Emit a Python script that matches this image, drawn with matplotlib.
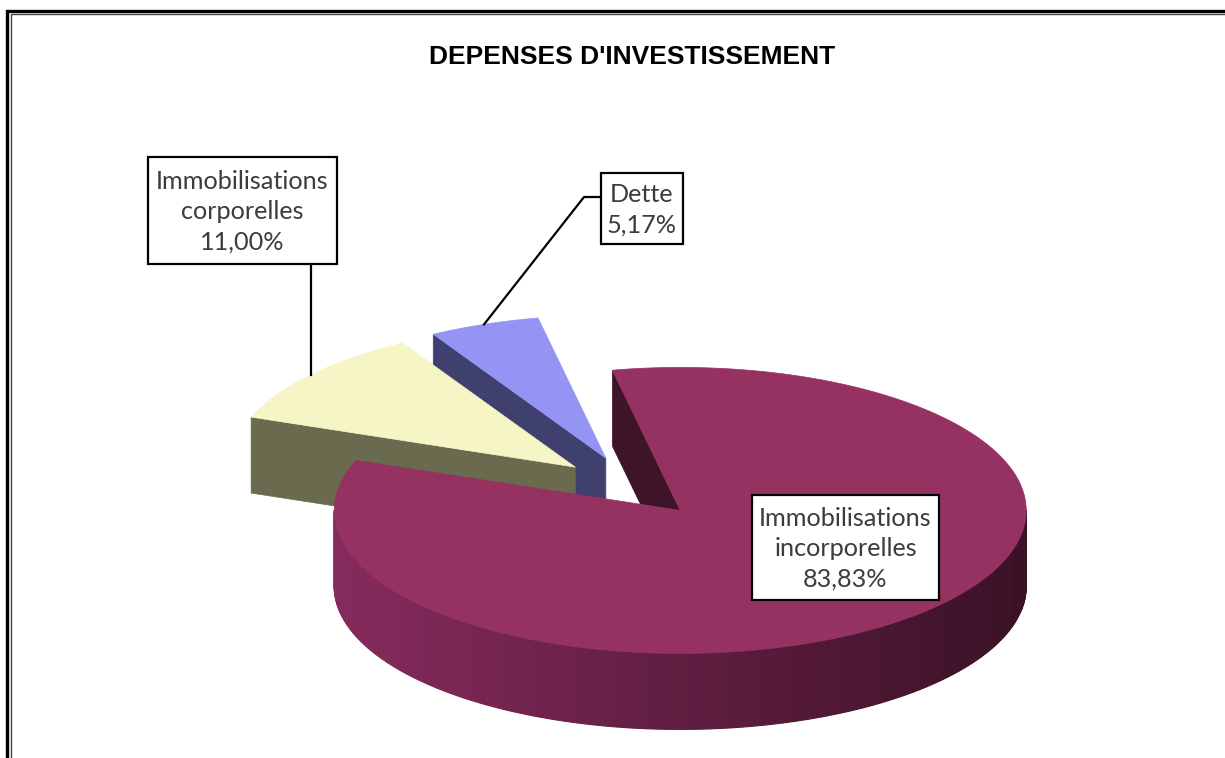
import numpy as np
import matplotlib
matplotlib.use("Agg")
import matplotlib.pyplot as plt
from matplotlib.patches import Polygon, Rectangle
from matplotlib.lines import Line2D
from matplotlib.colors import to_rgb

# ---------------- data ----------------
title = "DEPENSES D'INVESTISSEMENT"
categories = ["Immobilisations\nincorporelles", "Immobilisations\ncorporelles", "Dette"]
values = [83.83, 11.00, 5.17]
value_labels = ["83,83%", "11,00%", "5,17%"]

# ---------------- style ----------------
top_colors = ["#963262", "#F5F5C6", "#9494F4"]
face_colors = ["#3E1428", "#6A6A4E", "#40406F"]
wall_light = ["#862B5D", "#A8A888", "#6060A8"]
wall_dark = ["#3A1125", "#5A5A40", "#303058"]

W, H = 1225, 758
CX0, CY0 = 632, 487       # pie centre (pixels)
RX, RY = 346, 143         # projected radii
DEPTH = 76                # thickness
EXPLODE = 0.215           # fraction of radius
START = 101.3             # start angle (deg, CCW from east), slices clockwise

# label boxes (x0, y0, w, h) in pixels, in category order
boxes = [(752, 495, 187, 105), (148, 157, 189, 107), (601, 173, 82, 71)]

fig = plt.figure(figsize=(W / 100, H / 100), dpi=100)
ax = fig.add_axes([0, 0, 1, 1])
ax.set_xlim(0, W)
ax.set_ylim(H, 0)
ax.axis("off")

total = sum(values)
slices = []
cum = 0.0
for i, v in enumerate(values):
    hi = START - cum / total * 360.0
    lo = hi - v / total * 360.0
    cum += v
    mid = 0.5 * (lo + hi)
    cx = CX0 + EXPLODE * RX * np.cos(np.radians(mid))
    cy = CY0 - EXPLODE * RY * np.sin(np.radians(mid))
    slices.append(dict(i=i, lo=lo, hi=hi, mid=mid, cx=cx, cy=cy))


def proj(s, th, r=1.0, z=0.0):
    t = np.radians(th)
    return (s["cx"] + r * RX * np.cos(t), s["cy"] - r * RY * np.sin(t) + z)


def mix(c1, c2, t):
    a = np.array(to_rgb(c1))
    b = np.array(to_rgb(c2))
    return tuple(a * (1 - t) + b * t)


# painter's order: back (high sin(mid)) first
order = sorted(slices, key=lambda s: -np.sin(np.radians(s["mid"])))
for s in order:
    i = s["i"]
    lo, hi = s["lo"], s["hi"]
    c = (s["cx"], s["cy"])
    # radial faces
    for th, vis in ((lo, np.cos(np.radians(lo)) > 0), (hi, np.cos(np.radians(hi)) < 0)):
        if vis:
            pts = [c, proj(s, th), proj(s, th, 1, DEPTH), (c[0], c[1] + DEPTH)]
            ax.add_patch(Polygon(pts, closed=True, facecolor=face_colors[i],
                                 edgecolor=face_colors[i], lw=0.5))
    # outer wall (front half only)
    angs = np.linspace(lo, hi, 400)
    for a1, a2 in zip(angs[:-1], angs[1:]):
        am = 0.5 * (a1 + a2)
        if np.sin(np.radians(am)) < 0:
            t = (1 + np.cos(np.radians(am))) / 2.0   # 0 at left, 1 at right
            col = mix(wall_light[i], wall_dark[i], t)
            pts = [proj(s, a1), proj(s, a2), proj(s, a2, 1, DEPTH), proj(s, a1, 1, DEPTH)]
            ax.add_patch(Polygon(pts, closed=True, facecolor=col, edgecolor=col, lw=0.8))
    # top
    arc = [proj(s, a) for a in np.linspace(lo, hi, 300)]
    ax.add_patch(Polygon([c] + arc, closed=True, facecolor=top_colors[i],
                         edgecolor=top_colors[i], lw=0.5))

# ---------------- labels ----------------
label_font = ["Lato", "DejaVu Sans"]
for s in slices:
    i = s["i"]
    x0, y0, w, h = boxes[i]
    ax.add_patch(Rectangle((x0, y0), w, h, facecolor="white", edgecolor="black", lw=1.6, zorder=5))
    ax.text(x0 + w / 2, y0 + h / 2 + 1, categories[i] + "\n" + value_labels[i],
            ha="center", va="center", fontsize=18.2, family=label_font,
            color="#3c3c3c", linespacing=1.38, zorder=6)

# leader lines
s = slices[1]
px, py = proj(s, s["mid"])
x0, y0, w, h = boxes[1]
ax.add_line(Line2D([px, px], [y0 + h, py], color="black", lw=1.6, zorder=4))
s = slices[2]
px, py = proj(s, s["mid"])
x0, y0, w, h = boxes[2]
ay = y0 + 24
ax.add_line(Line2D([x0, x0 - 17, px], [ay, ay, py], color="black", lw=1.6, zorder=4))

# title
ax.text(632, 57, title, ha="center", va="center", fontsize=19,
        fontweight="bold", family=["Liberation Sans", "DejaVu Sans"], color="black")

# frame (double line, cropped on right and bottom)
ax.add_line(Line2D([7, 7, W], [H, 11, 11], color="black", lw=2.4, solid_joinstyle="miter"))
ax.add_line(Line2D([10.8, 10.8, W], [H, 14.3, 14.3], color="#444444", lw=1.0, solid_joinstyle="miter"))

fig.savefig("out.png", dpi=100)
